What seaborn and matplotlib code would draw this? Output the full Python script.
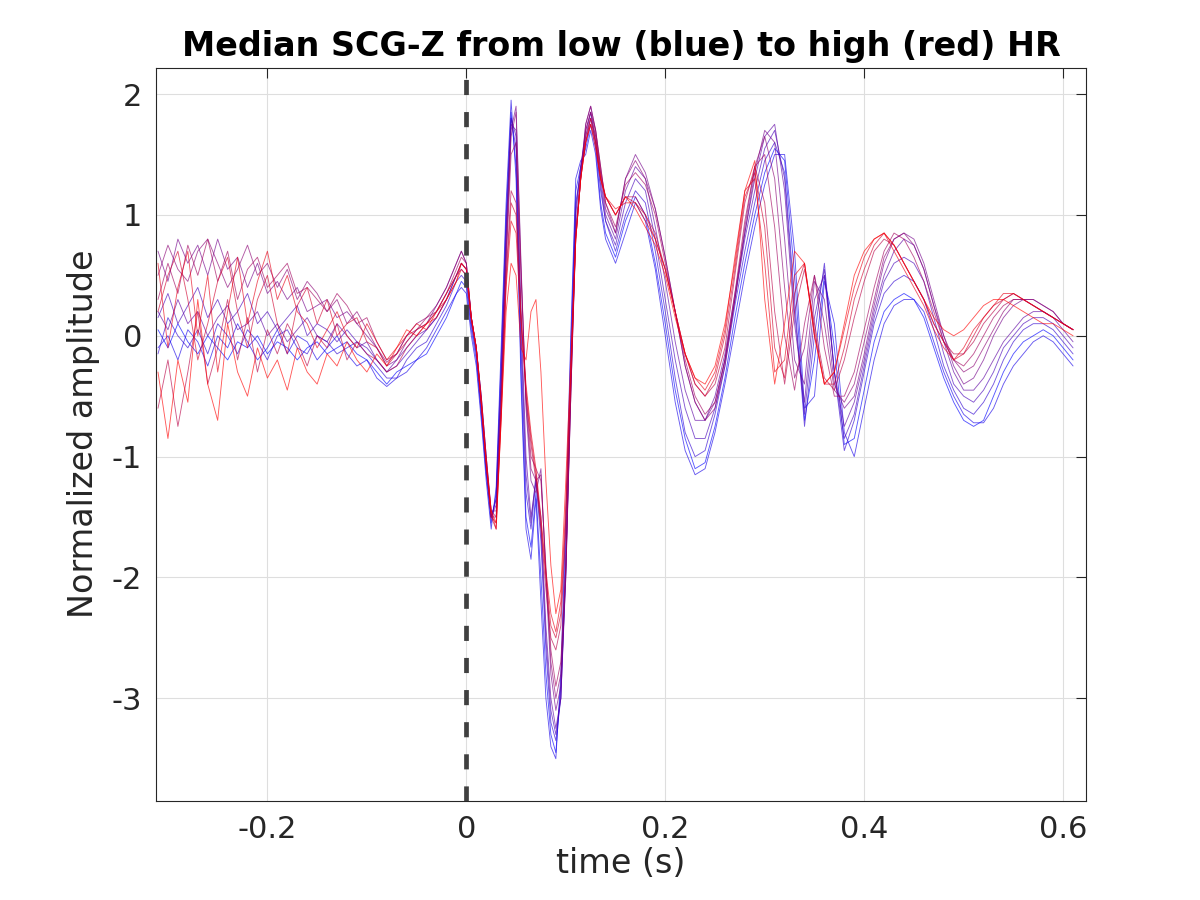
import numpy as np
import pandas as pd
import matplotlib
matplotlib.use("Agg")
import matplotlib.pyplot as plt
import seaborn as sns
from matplotlib.ticker import FuncFormatter

# time axis of the median beats (s)
time_pre = [-0.31, -0.30, -0.29, -0.28, -0.27, -0.26, -0.25, -0.24, -0.23, -0.22, -0.21,
            -0.20, -0.19, -0.18, -0.17, -0.16, -0.15, -0.14, -0.13, -0.12, -0.11, -0.10,
            -0.09, -0.08, -0.07, -0.06, -0.05, -0.04, -0.03, -0.02, -0.01, -0.005]
time_early = [0.0, 0.005, 0.01, 0.015, 0.02, 0.025, 0.03, 0.035, 0.04, 0.045, 0.05,
              0.055, 0.06, 0.065, 0.07, 0.075, 0.08, 0.085, 0.09, 0.095, 0.10, 0.105,
              0.11, 0.115, 0.12, 0.125, 0.13, 0.135, 0.14]
time_late = [0.15, 0.16, 0.17, 0.18, 0.19, 0.20, 0.21, 0.22, 0.23, 0.24, 0.25, 0.26,
             0.27, 0.28, 0.29, 0.30, 0.31, 0.32, 0.33, 0.34, 0.35, 0.36, 0.37, 0.38,
             0.39, 0.40, 0.41, 0.42, 0.43, 0.44, 0.45, 0.46, 0.47, 0.48, 0.49, 0.50,
             0.51, 0.52, 0.53, 0.54, 0.55, 0.56, 0.57, 0.58, 0.59, 0.60, 0.61]

# median SCG-Z beats, ordered from low HR (blue) to high HR (red)
# part before the R peak
beat_pre = [
    [0.05, -0.1, 0.1, -0.05, -0.15, 0.0, -0.1, -0.2, -0.05, -0.1, 0.0, -0.15, -0.05, -0.1, -0.2, -0.1,
     -0.05, -0.15, -0.1, -0.05, -0.15, -0.2, -0.3, -0.4, -0.3, -0.25, -0.2, -0.15, 0.0, 0.15, 0.35, 0.45],
    [-0.1, 0.0, -0.2, 0.05, -0.05, -0.25, 0.0, -0.1, 0.1, -0.05, -0.2, -0.1, 0.05, -0.15, 0.0, -0.05,
     -0.2, -0.1, 0.0, -0.15, -0.25, -0.2, -0.35, -0.42, -0.35, -0.3, -0.2, -0.1, 0.05, 0.2, 0.35, 0.4],
    [-0.15, 0.15, 0.0, -0.1, 0.05, -0.15, 0.1, 0.0, -0.15, 0.05, -0.05, -0.2, 0.0, 0.05, -0.1, -0.15,
     0.0, -0.05, -0.15, -0.1, -0.05, -0.15, -0.25, -0.35, -0.35, -0.2, -0.1, -0.05, 0.1, 0.25, 0.45, 0.5],
    [0.15, 0.35, 0.1, 0.25, 0.4, 0.15, 0.3, 0.1, 0.2, 0.35, 0.1, 0.2, 0.05, 0.15, 0.25, 0.0,
     0.1, 0.05, -0.05, 0.05, -0.05, -0.1, -0.2, -0.3, -0.25, -0.15, -0.05, 0.05, 0.15, 0.3, 0.5, 0.55],
    [0.2, 0.05, 0.3, 0.1, 0.2, 0.0, 0.15, 0.25, 0.05, 0.1, 0.2, 0.0, 0.1, -0.05, 0.05, 0.15,
     0.0, -0.05, 0.1, 0.0, -0.1, -0.05, -0.2, -0.3, -0.2, -0.1, 0.0, 0.05, 0.15, 0.3, 0.5, 0.6],
    [0.7, 0.45, 0.8, 0.6, 0.75, 0.5, 0.8, 0.55, 0.65, 0.4, 0.6, 0.35, 0.45, 0.3, 0.4, 0.2,
     0.25, 0.3, 0.15, 0.2, 0.1, 0.0, -0.1, -0.25, -0.2, -0.05, 0.05, 0.1, 0.25, 0.4, 0.6, 0.7],
    [0.5, 0.75, 0.55, 0.45, 0.7, 0.8, 0.6, 0.4, 0.55, 0.75, 0.5, 0.6, 0.4, 0.55, 0.3, 0.45,
     0.35, 0.2, 0.3, 0.1, 0.2, 0.05, -0.1, -0.22, -0.15, 0.0, 0.1, 0.15, 0.25, 0.4, 0.6, 0.7],
    [0.3, 0.6, 0.35, 0.75, 0.5, 0.8, 0.45, 0.7, 0.3, 0.55, 0.65, 0.4, 0.5, 0.6, 0.35, 0.4,
     0.3, 0.2, 0.35, 0.25, 0.1, 0.15, -0.05, -0.2, -0.15, 0.0, 0.05, 0.15, 0.2, 0.35, 0.55, 0.65],
    [-0.6, -0.2, -0.75, -0.3, 0.2, -0.4, -0.1, 0.3, -0.2, 0.15, -0.3, 0.05, -0.15, 0.1, -0.05, -0.25,
     0.0, -0.1, 0.1, -0.2, -0.05, -0.15, -0.2, -0.3, -0.25, -0.1, 0.0, 0.1, 0.2, 0.35, 0.5, 0.6],
    [0.2, 0.5, 0.7, 0.3, -0.2, 0.1, 0.45, 0.65, 0.2, -0.1, 0.3, 0.5, 0.1, -0.15, 0.25, 0.4,
     0.1, 0.3, 0.0, 0.1, 0.15, -0.05, -0.1, -0.25, -0.15, -0.05, 0.05, 0.1, 0.2, 0.35, 0.5, 0.6],
    [0.6, -0.1, 0.4, 0.7, 0.0, 0.5, -0.3, 0.2, 0.65, 0.1, 0.45, 0.7, 0.3, 0.5, 0.2, 0.1,
     -0.1, 0.05, 0.2, 0.0, -0.1, 0.1, -0.05, -0.2, -0.1, 0.0, 0.1, 0.05, 0.2, 0.3, 0.45, 0.6],
    [-0.3, -0.85, -0.2, -0.55, 0.3, -0.4, -0.7, 0.1, -0.3, -0.5, -0.1, -0.35, -0.2, -0.45, -0.1, -0.3,
     -0.4, -0.15, -0.25, -0.05, -0.2, -0.3, -0.15, -0.25, -0.1, 0.05, 0.0, 0.1, 0.15, 0.3, 0.45, 0.55],
]
# systolic complex
beat_early = [
    [0.4, 0.05, -0.2, -0.65, -1.15, -1.55, -1.3, -0.2, 1.0, 1.85, 1.4, -0.3, -1.5, -1.75, -1.3,
     -2.0, -2.8, -3.3, -3.45, -2.9, -1.7, -0.1, 1.2, 1.4, 1.55, 1.75, 1.55, 1.1, 0.85],
    [0.35, 0.0, -0.25, -0.7, -1.2, -1.6, -1.25, -0.1, 1.1, 1.95, 1.3, -0.4, -1.6, -1.85, -1.35,
     -2.2, -3.0, -3.4, -3.5, -2.8, -1.5, 0.0, 1.3, 1.45, 1.5, 1.7, 1.5, 1.05, 0.8],
    [0.45, 0.1, -0.15, -0.6, -1.1, -1.5, -1.35, -0.35, 0.9, 1.8, 1.55, -0.1, -1.3, -1.6, -1.2,
     -1.7, -2.6, -3.2, -3.35, -3.0, -1.9, -0.3, 1.1, 1.35, 1.6, 1.8, 1.6, 1.2, 0.95],
    [0.5, 0.1, -0.15, -0.6, -1.1, -1.5, -1.35, -0.35, 0.85, 1.8, 1.65, 0.05, -1.15, -1.55, -1.15,
     -1.6, -2.5, -3.1, -3.3, -3.0, -1.95, -0.35, 1.05, 1.4, 1.65, 1.85, 1.6, 1.25, 0.95],
    [0.55, 0.15, -0.1, -0.55, -1.1, -1.5, -1.4, -0.4, 0.8, 1.75, 1.7, 0.2, -1.0, -1.5, -1.2,
     -1.5, -2.4, -3.0, -3.25, -3.0, -2.0, -0.4, 1.0, 1.4, 1.7, 1.85, 1.65, 1.3, 1.0],
    [0.6, 0.15, -0.1, -0.5, -1.0, -1.45, -1.45, -0.5, 0.7, 1.7, 1.9, 0.6, -0.6, -1.2, -1.3,
     -1.1, -2.0, -2.8, -3.1, -2.9, -2.0, -0.5, 0.9, 1.35, 1.75, 1.9, 1.7, 1.35, 1.05],
    [0.6, 0.15, -0.1, -0.5, -1.0, -1.5, -1.5, -0.55, 0.65, 1.65, 1.85, 0.55, -0.55, -1.1, -1.2,
     -1.15, -1.95, -2.7, -3.0, -2.8, -1.95, -0.5, 0.85, 1.3, 1.75, 1.9, 1.7, 1.4, 1.1],
    [0.6, 0.15, -0.1, -0.5, -1.0, -1.45, -1.5, -0.6, 0.6, 1.5, 1.6, 0.5, -0.5, -1.0, -1.1,
     -1.2, -1.9, -2.6, -2.9, -2.7, -1.9, -0.5, 0.8, 1.3, 1.7, 1.85, 1.7, 1.4, 1.1],
    [0.55, 0.15, -0.1, -0.55, -1.05, -1.5, -1.55, -0.6, 0.5, 1.2, 1.1, 0.2, -0.5, -0.9, -1.2,
     -1.6, -2.1, -2.5, -2.6, -2.4, -1.6, -0.4, 0.8, 1.3, 1.65, 1.8, 1.65, 1.35, 1.15],
    [0.55, 0.15, -0.1, -0.55, -1.05, -1.5, -1.6, -0.65, 0.45, 1.1, 1.0, 0.15, -0.45, -0.85, -1.15,
     -1.55, -2.0, -2.4, -2.5, -2.3, -1.5, -0.35, 0.8, 1.3, 1.6, 1.8, 1.6, 1.3, 1.15],
    [0.55, 0.15, -0.1, -0.55, -1.05, -1.45, -1.6, -0.7, 0.4, 0.95, 0.85, 0.1, -0.4, -0.8, -1.1,
     -1.5, -1.95, -2.3, -2.45, -2.2, -1.4, -0.3, 0.8, 1.3, 1.6, 1.75, 1.6, 1.3, 1.15],
    [0.5, 0.15, -0.1, -0.55, -1.05, -1.45, -1.55, -0.7, 0.2, 0.6, 0.5, -0.1, -0.2, 0.2, 0.3,
     -0.3, -1.2, -1.9, -2.3, -2.1, -1.2, -0.2, 0.8, 1.3, 1.6, 1.75, 1.55, 1.3, 1.15],
]
# diastolic part
beat_late = [
    [0.65, 0.95, 1.15, 1.0, 0.6, 0.1, -0.45, -0.85, -1.1, -1.05, -0.75, -0.35, 0.15, 0.6, 1.0, 1.35,
     1.55, 1.45, 0.5, -0.7, -0.2, 0.5, -0.1, -0.9, -0.85, -0.45, -0.05, 0.2, 0.3, 0.35, 0.3, 0.15,
     -0.1, -0.35, -0.55, -0.7, -0.75, -0.7, -0.5, -0.3, -0.15, -0.05, 0.0, 0.05, 0.0, -0.1, -0.2],
    [0.6, 0.85, 1.1, 0.95, 0.55, 0.0, -0.55, -0.95, -1.15, -1.1, -0.8, -0.4, 0.05, 0.5, 0.9, 1.25,
     1.5, 1.5, 0.7, -0.6, -0.5, 0.45, 0.1, -0.8, -1.0, -0.6, -0.2, 0.1, 0.25, 0.3, 0.3, 0.2,
     -0.05, -0.3, -0.5, -0.65, -0.72, -0.72, -0.6, -0.4, -0.25, -0.15, -0.05, 0.0, -0.05, -0.15, -0.25],
    [0.7, 1.0, 1.2, 1.1, 0.7, 0.2, -0.35, -0.8, -1.0, -0.95, -0.65, -0.25, 0.25, 0.7, 1.1, 1.45,
     1.6, 1.35, 0.3, -0.75, 0.0, 0.6, -0.3, -0.95, -0.7, -0.3, 0.1, 0.35, 0.45, 0.5, 0.45, 0.3,
     0.05, -0.25, -0.45, -0.6, -0.65, -0.55, -0.4, -0.2, -0.05, 0.05, 0.1, 0.1, 0.05, -0.05, -0.15],
    [0.75, 1.1, 1.3, 1.2, 0.8, 0.3, -0.2, -0.6, -0.85, -0.85, -0.6, -0.2, 0.3, 0.8, 1.2, 1.55,
     1.7, 1.3, 0.2, -0.65, 0.15, 0.55, -0.3, -0.85, -0.65, -0.25, 0.15, 0.45, 0.6, 0.65, 0.6, 0.45,
     0.15, -0.15, -0.4, -0.5, -0.55, -0.45, -0.3, -0.1, 0.0, 0.1, 0.15, 0.15, 0.1, 0.0, -0.1],
    [0.8, 1.2, 1.4, 1.3, 0.9, 0.45, -0.05, -0.45, -0.7, -0.7, -0.5, -0.15, 0.35, 0.85, 1.3, 1.65,
     1.75, 1.2, 0.1, -0.55, 0.3, 0.5, -0.3, -0.75, -0.55, -0.2, 0.2, 0.5, 0.7, 0.8, 0.75, 0.55,
     0.25, -0.05, -0.3, -0.45, -0.45, -0.35, -0.2, -0.05, 0.05, 0.15, 0.2, 0.2, 0.15, 0.05, -0.05],
    [0.85, 1.3, 1.5, 1.35, 1.05, 0.65, 0.2, -0.25, -0.55, -0.7, -0.55, -0.2, 0.3, 0.85, 1.35, 1.7,
     1.6, 0.8, -0.2, -0.4, 0.45, 0.3, -0.4, -0.6, -0.5, -0.15, 0.25, 0.6, 0.8, 0.85, 0.8, 0.6,
     0.3, 0.0, -0.25, -0.4, -0.35, -0.2, 0.0, 0.15, 0.25, 0.3, 0.3, 0.25, 0.2, 0.1, 0.05],
    [0.85, 1.3, 1.45, 1.3, 1.05, 0.65, 0.2, -0.25, -0.55, -0.7, -0.6, -0.25, 0.3, 0.9, 1.4, 1.65,
     1.3, 0.4, -0.35, -0.1, 0.5, 0.1, -0.45, -0.55, -0.4, -0.05, 0.3, 0.65, 0.8, 0.85, 0.75, 0.55,
     0.25, 0.0, -0.2, -0.3, -0.25, -0.1, 0.05, 0.2, 0.3, 0.3, 0.3, 0.25, 0.2, 0.1, 0.05],
    [0.9, 1.25, 1.35, 1.25, 1.0, 0.6, 0.2, -0.2, -0.5, -0.65, -0.55, -0.2, 0.35, 0.95, 1.4, 1.5,
     0.9, 0.0, -0.45, 0.1, 0.5, -0.1, -0.5, -0.5, -0.3, 0.05, 0.4, 0.7, 0.85, 0.8, 0.65, 0.45,
     0.2, -0.05, -0.2, -0.25, -0.15, 0.0, 0.15, 0.25, 0.3, 0.3, 0.25, 0.2, 0.15, 0.1, 0.05],
    [1.0, 1.15, 1.15, 1.0, 0.85, 0.55, 0.2, -0.15, -0.4, -0.5, -0.4, -0.1, 0.5, 1.1, 1.4, 1.1,
     0.2, -0.4, 0.2, 0.55, 0.1, -0.35, -0.45, -0.2, 0.15, 0.45, 0.7, 0.8, 0.75, 0.6, 0.45, 0.3,
     0.1, -0.05, -0.15, -0.15, -0.05, 0.1, 0.2, 0.3, 0.35, 0.3, 0.25, 0.2, 0.15, 0.1, 0.05],
    [1.0, 1.15, 1.1, 1.0, 0.8, 0.55, 0.2, -0.15, -0.4, -0.5, -0.35, 0.0, 0.55, 1.15, 1.35, 0.9,
     -0.1, -0.35, 0.35, 0.6, 0.05, -0.4, -0.4, -0.1, 0.3, 0.55, 0.75, 0.85, 0.75, 0.6, 0.45, 0.3,
     0.1, -0.05, -0.2, -0.15, 0.0, 0.15, 0.25, 0.3, 0.35, 0.3, 0.25, 0.2, 0.15, 0.1, 0.05],
    [1.05, 1.1, 1.1, 0.95, 0.8, 0.55, 0.2, -0.15, -0.35, -0.45, -0.3, 0.05, 0.65, 1.2, 1.3, 0.6,
     -0.3, -0.2, 0.5, 0.6, 0.0, -0.4, -0.3, 0.05, 0.4, 0.65, 0.8, 0.85, 0.7, 0.55, 0.4, 0.25,
     0.05, -0.1, -0.2, -0.1, 0.05, 0.15, 0.25, 0.35, 0.35, 0.3, 0.25, 0.2, 0.15, 0.1, 0.05],
    [1.0, 1.15, 1.05, 0.9, 0.75, 0.5, 0.15, -0.15, -0.35, -0.4, -0.25, 0.1, 0.6, 1.2, 1.45, 0.3,
     -0.4, 0.1, 0.7, 0.6, 0.0, -0.4, -0.3, 0.1, 0.5, 0.7, 0.8, 0.85, 0.75, 0.6, 0.45, 0.3,
     0.15, 0.05, 0.0, 0.05, 0.15, 0.25, 0.3, 0.3, 0.25, 0.2, 0.15, 0.1, 0.1, 0.05, 0.0],
]

time_s = time_pre + time_early + time_late
n_beats = len(beat_pre)

rows = []
for k in range(n_beats):
    amp = beat_pre[k] + beat_early[k] + beat_late[k]
    for t, a in zip(time_s, amp):
        rows.append({"time": t, "amp": a, "beat": k})
df = pd.DataFrame(rows)

# blue -> red colour ramp, like the original
palette = [(k / (n_beats - 1), 0.0, 1 - k / (n_beats - 1)) for k in range(n_beats)]

sns.set_style("white")
plt.rcParams["font.family"] = ["DejaVu Sans"]

fig = plt.figure(figsize=(12, 9), dpi=100)
ax = fig.add_axes([0.13, 0.11, 0.775, 0.815])

sns.lineplot(data=df, x="time", y="amp", hue="beat", palette=palette,
             estimator=None, sort=False, linewidth=0.65, alpha=0.65,
             legend=False, ax=ax)

ax.axvline(0, color="#404040", linewidth=3.4, dashes=(3.2, 3.6), zorder=5)

ax.set_xlim(-0.312, 0.623)
ax.set_ylim(-3.85, 2.22)
ax.set_xticks([-0.2, 0, 0.2, 0.4, 0.6])
ax.set_yticks([-3, -2, -1, 0, 1, 2])
fmt = FuncFormatter(lambda v, p: "%g" % round(v, 3))
ax.xaxis.set_major_formatter(fmt)
ax.yaxis.set_major_formatter(fmt)

ax.grid(True, color="#dedede", linewidth=0.8)
ax.set_axisbelow(True)
for s in ax.spines.values():
    s.set_color("#262626")
    s.set_linewidth(0.8)
ax.tick_params(direction="in", length=7, width=0.8, top=True, right=True,
               labelsize=22, colors="#262626", pad=10)

ax.set_xlabel("time (s)", fontsize=24, color="#262626", labelpad=2)
ax.set_ylabel("Normalized amplitude", fontsize=24, color="#262626", labelpad=8)
ax.set_title("Median SCG-Z from low (blue) to high (red) HR", fontsize=24,
             fontweight="bold", color="black", pad=8)

plt.savefig("out.png", dpi=100)
